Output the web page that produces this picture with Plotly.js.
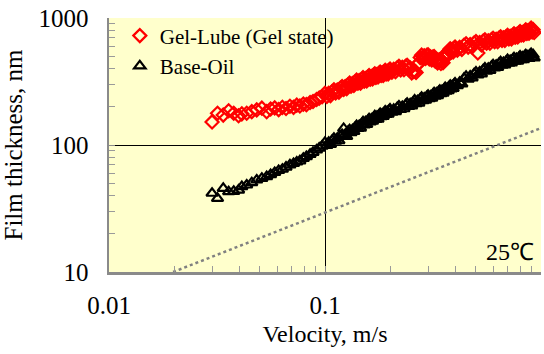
<!DOCTYPE html>
<html>
<head>
<meta charset="utf-8">
<script src="https://cdn.plot.ly/plotly-3.0.1.min.js"></script>
<style>html,body{margin:0;padding:0;background:#fff;}#chart{width:544px;height:354px;}</style>
</head>
<body>
<div id="chart"></div>
<script>
// Velocity (m/s) shared by both measured series
const velocity = [
  0.0300,0.0318,0.0338,0.0358,0.0378,0.0398,0.0412,0.0434,0.0458,0.0483,
  0.0510,0.0537,0.0560,0.0585,0.0610,0.0635,0.0660,0.0688,0.0715,0.0740,
  0.0765,0.0794,0.0820,0.0853,0.0880,0.0914,0.0940,0.0970,
  0.100,0.102,0.104,0.106,0.108,0.110,0.112,0.114,0.116,0.118,
  0.120,0.122,0.124,0.126,0.128,0.130,0.132,0.134,0.136,0.138,
  0.140,0.142,0.144,0.146,0.148,0.150,0.152,0.154,0.156,0.158,
  0.160,0.162,0.164,0.166,0.168,0.170,0.172,0.174,0.176,0.178,
  0.180,0.182,0.184,0.186,0.188,0.190,0.192,0.194,0.196,0.198,
  0.200,0.204,0.208,0.212,0.216,0.220,0.224,0.228,0.232,0.236,
  0.240,0.244,0.248,0.252,0.256,0.260,0.264,0.268,0.272,0.276,
  0.280,0.284,0.288,0.292,0.296,0.300,0.304,0.308,0.312,0.316,
  0.320,0.324,0.328,0.332,0.336,0.340,0.344,0.348,0.352,0.356,
  0.360,0.364,0.368,0.372,0.376,0.380,0.384,0.388,0.392,0.396,
  0.40,0.41,0.42,0.43,0.44,0.45,0.46,0.47,0.48,0.49,
  0.50,0.51,0.52,0.53,0.54,0.55,0.56,0.57,0.58,0.59,
  0.60,0.61,0.62,0.63,0.64,0.65,0.66,0.67,0.68,0.69,
  0.70,0.71,0.72,0.73,0.74,0.75,0.76,0.77,0.78,0.79,
  0.80,0.81,0.82,0.83,0.84,0.85,0.86,0.87,0.88,0.89,
  0.90,0.91,0.92,0.93];
// Film thickness (nm), Gel-Lube (gel state)
const gelLube = [
  152,178,172,186,178,170,176,178,183,189,
  195,183,192,196,190,198,194,202,198,206,
  203,210,208,216,220,228,234,240,
  255,241,255,245,263,272,257,271,260,281,
  289,274,288,277,298,308,290,305,294,315,
  324,306,321,307,329,339,318,334,320,343,
  352,330,346,331,355,364,341,359,343,367,
  376,353,370,353,377,387,363,380,363,388,
  397,374,394,378,405,416,390,409,391,416,
  424,393,404,370,379,383,373,429,442,488,
  510,480,504,480,508,514,477,494,467,492,
  497,458,470,442,464,468,438,460,444,488,
  515,495,529,515,556,572,537,564,540,577,
  591,558,588,566,610,627,590,619,593,635,
  653,530,642,614,657,674,632,662,633,675,
  693,650,680,650,694,711,667,698,667,712,
  730,685,717,685,732,751,706,741,710,761,
  782,734,769,735,785,806,757,793,758,811,
  832,778,810,768];
// Film thickness (nm), Base-Oil
const baseOil = [
  41.7,38.0,45.6,42.9,43.2,44.2,47.0,48.4,50.5,53.0,
  54.7,56.4,58.5,60.8,63.0,64.5,67.0,69.7,71.5,73.5,
  75.0,78.6,81.0,84.5,87.5,91.4,94.5,98.0,
  105,99.5,105,101,109,113,107,113,108,117,
  121,135,121,117,128,132,125,132,128,138,
  142,135,142,136,147,152,144,152,145,156,
  161,152,160,154,164,170,159,168,160,172,
  177,167,175,168,180,185,174,183,175,188,
  192,181,191,183,197,203,191,201,193,207,
  213,201,211,203,217,226,212,223,214,231,
  237,223,234,225,241,246,232,243,234,251,
  258,243,256,245,263,270,254,268,256,275,
  283,266,280,268,288,295,277,292,279,300,
  308,293,311,303,335,347,330,349,338,364,
  376,356,376,363,391,404,381,402,387,416,
  428,404,425,408,439,451,425,445,427,457,
  470,441,463,444,474,487,457,479,457,489,
  501,469,492,469,502,514,481,503,481,513,
  525,492,513,485];
// Calculated reference line (gray dotted)
const calcVelocity = [0.0198, 1.0];
const calcThickness = [10, 136];

const xTickVals = [0.01, 0.1, 1];
const xTickText = ['0.01', '0.1', '1'];
const yTickVals = [10, 100, 1000];
const yTickText = ['10', '100', '1000'];

const serif = 'Liberation Serif, Times New Roman, serif';

const traces = [
  {x: calcVelocity, y: calcThickness, mode: 'lines', showlegend: false,
   line: {color: '#808080', width: 2.5, dash: 'dot'}, hoverinfo: 'skip'},
  {x: velocity, y: gelLube, mode: 'markers', name: 'Gel-Lube (Gel state)',
   marker: {symbol: 'diamond-open', color: '#ff0000', size: 10, line: {width: 2.2, color: '#ff0000'}}},
  {x: velocity, y: baseOil, mode: 'markers', name: 'Base-Oil',
   marker: {symbol: 'triangle-up-open', color: '#000000', size: 10, line: {width: 2.2, color: '#000000'}}}
];

const axisCommon = {
  type: 'log',
  showgrid: true, gridcolor: '#000000', gridwidth: 1,
  zeroline: false,
  showline: true, linecolor: '#8a8a8a', linewidth: 2.5,
  ticks: 'inside', ticklen: 6, tickcolor: '#8a8a8a', tickwidth: 1,
  tickmode: 'array',
  tickfont: {family: serif, size: 25, color: '#000'},
  minor: {ticks: 'inside', ticklen: 6, tickcolor: '#9a9a9a', tickwidth: 1, dtick: 'D1', showgrid: false}
};

const layout = {
  width: 544, height: 354,
  margin: {l: 109, r: 3, t: 18, b: 82},
  paper_bgcolor: '#ffffff',
  plot_bgcolor: '#ffffcc',
  showlegend: true,
  legend: {x: 0.025, y: 1.01, xanchor: 'left', yanchor: 'top',
    bgcolor: 'rgba(0,0,0,0)', borderwidth: 0,
    font: {family: serif, size: 21, color: '#000'},
    tracegroupgap: 0},
  xaxis: Object.assign({}, axisCommon, {
    range: [-2, 0], tickvals: xTickVals, ticktext: xTickText,
    ticklabelstandoff: 9,
    title: {text: 'Velocity, m/s', font: {family: serif, size: 24, color: '#000'}, standoff: 8}
  }),
  yaxis: Object.assign({}, axisCommon, {
    range: [1, 3], tickvals: yTickVals, ticktext: yTickText,
    ticklabelstandoff: 13,
    title: {text: 'Film thickness, nm', font: {family: serif, size: 25, color: '#000'}, standoff: 10}
  }),
  annotations: [{
    xref: 'paper', yref: 'paper', x: 0.988, y: 0.02, xanchor: 'right', yanchor: 'bottom',
    text: '25℃', showarrow: false, font: {family: serif, size: 24, color: '#000'}
  }]
};

Plotly.newPlot('chart', traces, layout, {displayModeBar: false, staticPlot: true});
</script>
</body>
</html>
